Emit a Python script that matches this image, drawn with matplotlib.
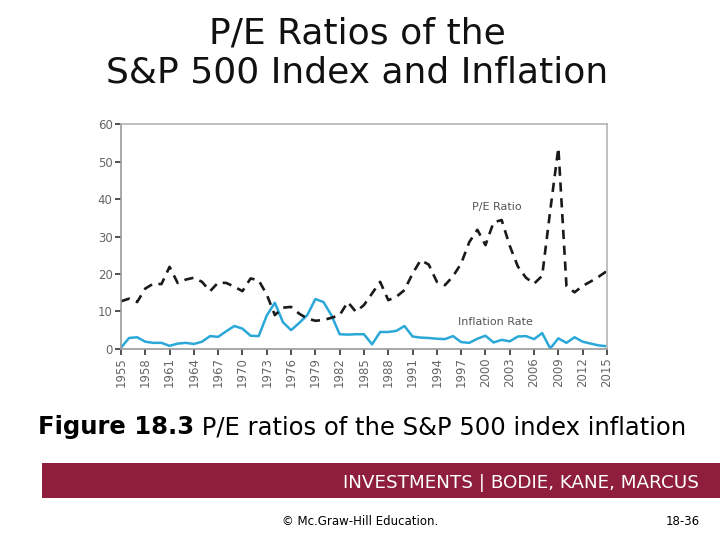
#P/E ratios of the S&P 500 vs inflation
import matplotlib
matplotlib.use("Agg")
import matplotlib.pyplot as plt
from matplotlib.patches import Rectangle

years = list(range(1955, 2016))

pe_ratio = [12.7, 13.4, 12.5, 16.1, 17.4, 17.3, 21.9, 17.6, 18.5, 19.0,
            17.9, 15.4, 17.7, 17.6, 16.6, 15.4, 18.8, 18.3, 14.5, 9.0,
            11.0, 11.2, 9.4, 8.1, 7.5, 7.7, 8.3, 9.0, 12.5, 9.9,
            11.7, 14.8, 17.9, 13.0, 13.9, 15.7, 20.1, 23.7, 22.5, 17.9,
            17.0, 19.4, 22.8, 28.5, 31.8, 27.7, 33.8, 34.4, 27.5, 22.0,
            19.0, 17.4, 19.5, 37.0, 53.7, 16.8, 15.1, 16.8, 18.0, 19.3,
            20.8]

inflation = [0.3, 2.9, 3.1, 1.9, 1.6, 1.6, 0.8, 1.4, 1.6, 1.3,
             1.9, 3.4, 3.2, 4.7, 6.1, 5.4, 3.5, 3.4, 8.9, 12.3,
             7.1, 5.0, 6.9, 9.0, 13.3, 12.5, 8.9, 3.9, 3.8, 3.9,
             3.9, 1.2, 4.5, 4.5, 4.8, 6.1, 3.3, 3.0, 2.9, 2.7,
             2.6, 3.4, 1.8, 1.6, 2.7, 3.5, 1.7, 2.4, 2.0, 3.3,
             3.4, 2.6, 4.2, 0.1, 2.8, 1.6, 3.1, 1.9, 1.4, 0.9,
             0.7]

tick_years = list(range(1955, 2016, 3))
y_ticks = [0, 10, 20, 30, 40, 50, 60]

plt.rcParams['font.family'] = ['DejaVu Sans']
fig = plt.figure(figsize=(7.2, 5.4), dpi=100)

ax = fig.add_axes([0.168, 0.354, 0.675, 0.416])
ax.plot(years, inflation, color="#2aa8d8", linewidth=1.8)
ax.plot(years, pe_ratio, color="#1a1a1a", linewidth=1.9, dashes=(3.5, 2.5))

ax.set_xlim(1955, 2015)
ax.set_ylim(0, 60)
ax.set_xticks(tick_years)
ax.set_xticklabels([str(y) for y in tick_years], rotation=90, fontsize=8.5, color="#666666")
ax.set_yticks(y_ticks)
ax.set_yticklabels([str(v) for v in y_ticks], fontsize=8.5, color="#666666")
ax.tick_params(axis="both", direction="out", length=4, width=1.2, color="#333333", pad=2)

for side in ["top", "right"]:
    ax.spines[side].set_color("#b5b5b5")
    ax.spines[side].set_linewidth(1.2)
for side in ["left", "bottom"]:
    ax.spines[side].set_color("#999999")
    ax.spines[side].set_linewidth(1.2)

ax.text(2001.4, 37.8, "P/E Ratio", fontsize=8, color="#555555", ha="center", va="center")
ax.text(2001.2, 7.1, "Inflation Rate", fontsize=8, color="#555555", ha="center", va="center")

# slide title and caption
fig.text(0.496, 0.902, "P/E Ratios of the\nS&P 500 Index and Inflation", fontsize=26,
         ha="center", va="center", linespacing=1.2, color="#111111")

cap = fig.text(0.053, 0.209, "Figure 18.3", fontsize=17.5, fontweight="bold",
               ha="left", va="center")
ax.annotate(" P/E ratios of the S&P 500 index inflation", xy=(1, 0.5), xycoords=cap,
            fontsize=17.5, ha="left", va="center", annotation_clip=False)

fig.patches.append(Rectangle((0.058, 0.078), 0.942, 0.065, transform=fig.transFigure,
                             facecolor="#8e1e3c", edgecolor="none"))
fig.text(0.97, 0.106, "INVESTMENTS | BODIE, KANE, MARCUS", fontsize=13.2,
         color="white", ha="right", va="center")

fig.text(0.5, 0.035, "© Mc.Graw-Hill Education.", fontsize=8.5, ha="center", va="center")
fig.text(0.948, 0.035, "18-36", fontsize=8.5, ha="center", va="center")

fig.savefig("out.png", dpi=100)
